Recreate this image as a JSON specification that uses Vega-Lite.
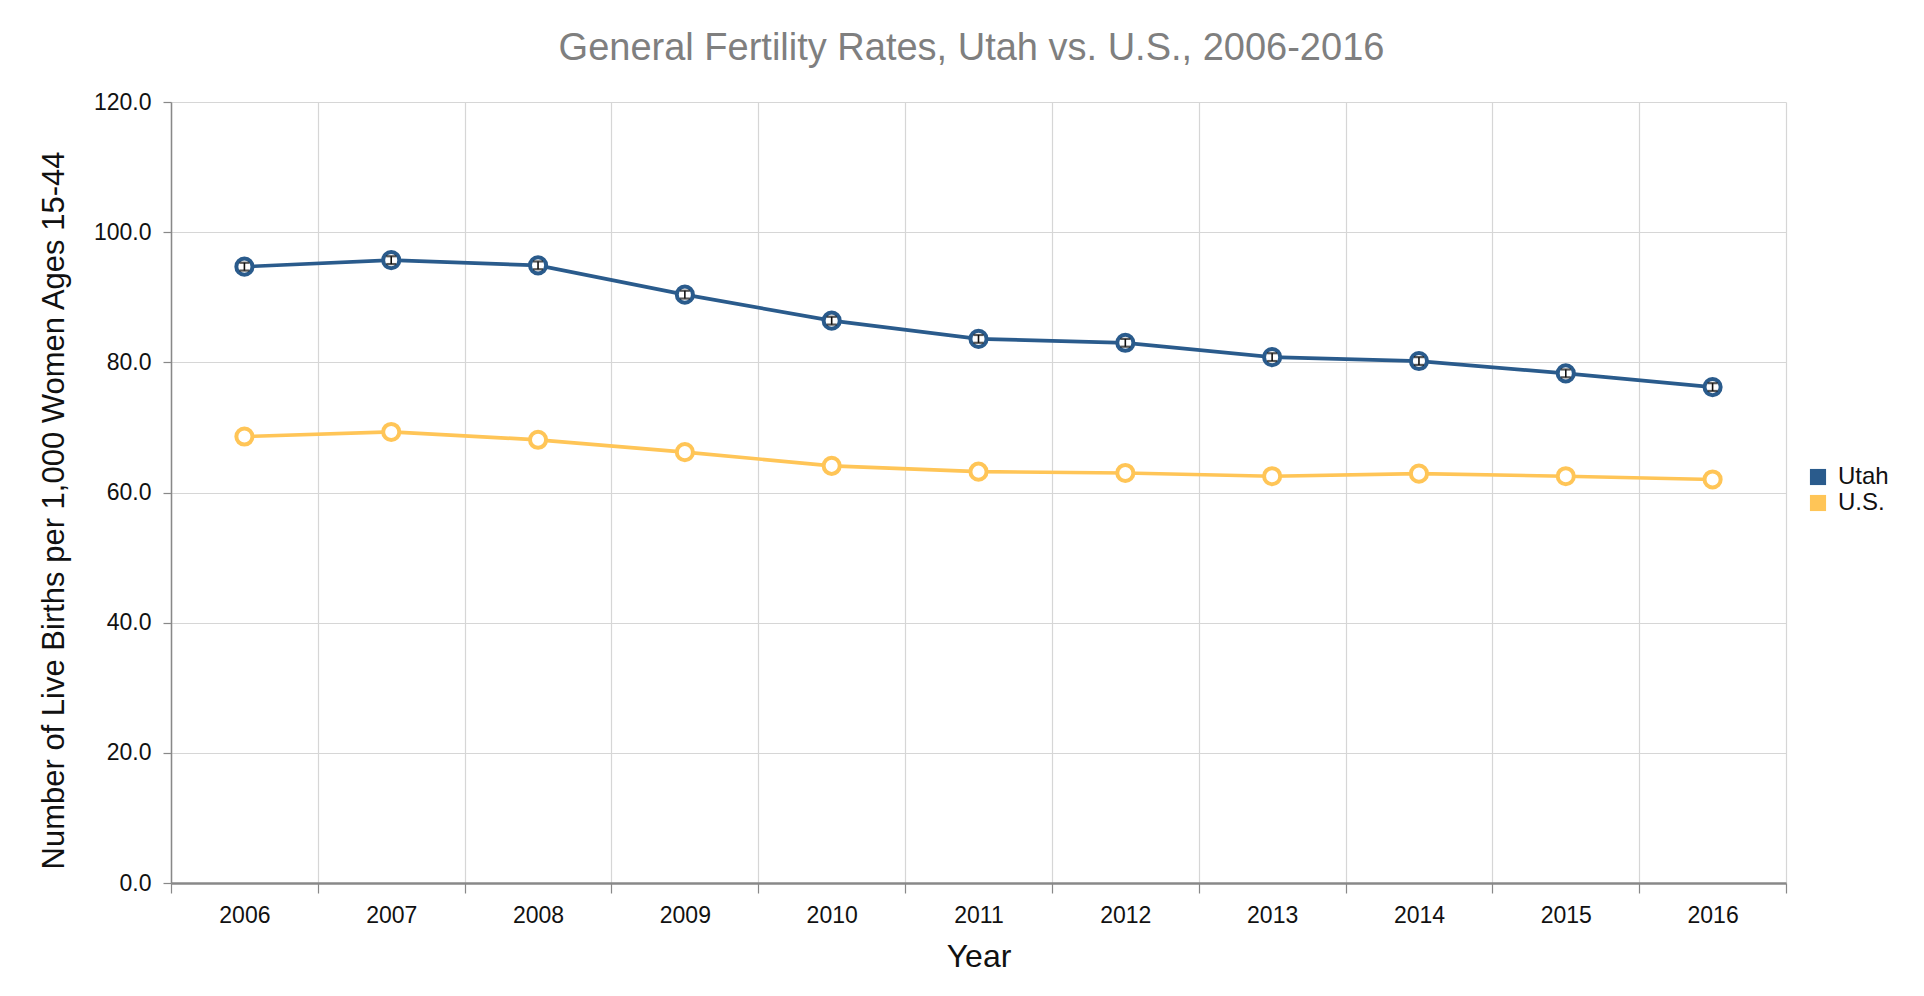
{
  "$schema": "https://vega.github.io/schema/vega-lite/v6.json",
  "width": 1615,
  "height": 781,
  "autosize": {"type": "none"},
  "padding": {"left": 171, "top": 102, "right": 138, "bottom": 113},
  "background": "white",
  "title": {
    "text": "General Fertility Rates, Utah vs. U.S., 2006-2016",
    "fontSize": 38,
    "font": "Liberation Sans",
    "fontWeight": "normal",
    "color": "#7f7f7f",
    "offset": 23,
    "dx": -7
  },
  "data": {
    "values": [
      {"Year": "2006", "Region": "Utah", "Rate": 94.7, "Lower": 94.1, "Upper": 95.3},
      {"Year": "2007", "Region": "Utah", "Rate": 95.7, "Lower": 95.1, "Upper": 96.3},
      {"Year": "2008", "Region": "Utah", "Rate": 94.9, "Lower": 94.3, "Upper": 95.5},
      {"Year": "2009", "Region": "Utah", "Rate": 90.4, "Lower": 89.8, "Upper": 91.0},
      {"Year": "2010", "Region": "Utah", "Rate": 86.4, "Lower": 85.8, "Upper": 87.0},
      {"Year": "2011", "Region": "Utah", "Rate": 83.6, "Lower": 83.0, "Upper": 84.2},
      {"Year": "2012", "Region": "Utah", "Rate": 83.0, "Lower": 82.4, "Upper": 83.6},
      {"Year": "2013", "Region": "Utah", "Rate": 80.8, "Lower": 80.2, "Upper": 81.4},
      {"Year": "2014", "Region": "Utah", "Rate": 80.2, "Lower": 79.6, "Upper": 80.8},
      {"Year": "2015", "Region": "Utah", "Rate": 78.3, "Lower": 77.7, "Upper": 78.9},
      {"Year": "2016", "Region": "Utah", "Rate": 76.2, "Lower": 75.6, "Upper": 76.8},
      {"Year": "2006", "Region": "U.S.", "Rate": 68.6},
      {"Year": "2007", "Region": "U.S.", "Rate": 69.3},
      {"Year": "2008", "Region": "U.S.", "Rate": 68.1},
      {"Year": "2009", "Region": "U.S.", "Rate": 66.2},
      {"Year": "2010", "Region": "U.S.", "Rate": 64.1},
      {"Year": "2011", "Region": "U.S.", "Rate": 63.2},
      {"Year": "2012", "Region": "U.S.", "Rate": 63.0},
      {"Year": "2013", "Region": "U.S.", "Rate": 62.5},
      {"Year": "2014", "Region": "U.S.", "Rate": 62.9},
      {"Year": "2015", "Region": "U.S.", "Rate": 62.5},
      {"Year": "2016", "Region": "U.S.", "Rate": 62.0}
    ]
  },
  "encoding": {
    "x": {
      "field": "Year",
      "type": "ordinal",
      "scale": {"type": "band", "paddingInner": 0, "paddingOuter": 0},
      "axis": {
        "title": "Year",
        "labelAngle": 0,
        "tickBand": "extent",
        "grid": true,
        "gridColor": "#d6d6d6",
        "gridWidth": 1.2,
        "domainColor": "#888888",
        "domainWidth": 2.5,
        "tickColor": "#888888",
        "tickWidth": 1.2,
        "tickSize": 10,
        "labelPadding": 11,
        "labelFontSize": 23,
        "labelColor": "#111111",
        "titleFontSize": 32,
        "titleFontWeight": "normal",
        "titleColor": "#111111",
        "titlePadding": 14
      }
    }
  },
  "layer": [
    {
      "mark": {"type": "line", "strokeWidth": 3.7},
      "encoding": {
        "y": {
          "field": "Rate",
          "type": "quantitative",
          "scale": {"domain": [0, 120]},
          "axis": {
            "title": "Number of Live Births per 1,000 Women Ages 15-44",
            "values": [0, 20, 40, 60, 80, 100, 120],
            "format": ".1f",
            "grid": true,
            "gridColor": "#d6d6d6",
            "gridWidth": 1.2,
            "domainColor": "#888888",
            "domainWidth": 1.5,
            "tickColor": "#888888",
            "tickWidth": 1.2,
            "tickSize": 8,
            "labelPadding": 12,
            "labelFontSize": 23,
            "labelColor": "#111111",
            "titleFontSize": 31,
            "titleFontWeight": "normal",
            "titleColor": "#111111",
            "titlePadding": 23,
            "titleY": 408
          }
        },
        "color": {
          "field": "Region",
          "type": "nominal",
          "scale": {"domain": ["Utah", "U.S."], "range": ["#2A5B8C", "#FFC557"]},
          "legend": {
            "title": null,
            "orient": "none",
            "legendX": 1635,
            "legendY": 363,
            "symbolType": "square",
            "symbolSize": 260,
            "labelFontSize": 24,
            "labelColor": "#111111",
            "rowPadding": 2,
            "padding": 0,
            "labelOffset": 8,
            "encode": {
              "symbols": {
                "update": {
                  "fill": {"scale": "color", "field": "value"},
                  "fillOpacity": {"value": 1},
                  "strokeWidth": {"value": 0}
                }
              }
            }
          }
        }
      }
    },
    {
      "mark": {"type": "point", "filled": false, "fill": "white", "fillOpacity": 1, "size": 260, "strokeWidth": 4, "opacity": 1},
      "encoding": {
        "y": {"field": "Rate", "type": "quantitative", "title": "Number of Live Births per 1,000 Women Ages 15-44"},
        "color": {"field": "Region", "type": "nominal"}
      }
    },
    {
      "transform": [{"filter": "datum.Region === 'Utah'"}],
      "mark": {"type": "errorbar", "color": "#111111", "ticks": {"size": 10, "thickness": 2.2}, "rule": {"strokeWidth": 1.6}},
      "encoding": {
        "y": {"field": "Lower", "type": "quantitative", "title": "Number of Live Births per 1,000 Women Ages 15-44"},
        "y2": {"field": "Upper"}
      }
    }
  ],
  "config": {
    "font": "Liberation Sans",
    "view": {"stroke": null}
  }
}
